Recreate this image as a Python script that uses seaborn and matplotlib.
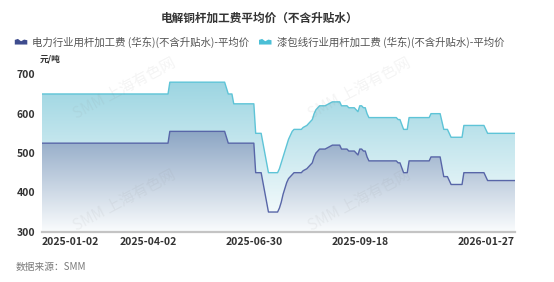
import numpy as np
import pandas as pd
import matplotlib
matplotlib.use("Agg")
import matplotlib.pyplot as plt
import seaborn as sns
from matplotlib.patches import PathPatch, Polygon
from matplotlib.legend_handler import HandlerBase
from matplotlib.colors import LinearSegmentedColormap

# ---------------- data ----------------
title = "电解铜杆加工费平均价（不含升贴水）"
series_names = ["电力行业用杆加工费 (华东)(不含升贴水)-平均价",
                "漆包线行业用杆加工费 (华东)(不含升贴水)-平均价"]
unit = "元/吨"
source = "数据来源：SMM"

holidays = ["2025-01-01", "2025-01-28", "2025-01-29", "2025-01-30", "2025-01-31",
            "2025-02-03", "2025-02-04", "2025-04-04", "2025-05-01", "2025-05-02",
            "2025-05-05", "2025-06-02", "2025-10-01", "2025-10-02", "2025-10-03",
            "2025-10-06", "2025-10-07", "2025-10-08", "2026-01-01", "2026-01-02"]

dates = ["2025-01-02", "2025-04-18", "2025-04-21", "2025-06-06", "2025-06-10",
         "2025-06-12", "2025-06-13", "2025-06-30", "2025-07-01", "2025-07-04",
         "2025-07-10", "2025-07-17", "2025-07-18", "2025-07-21", "2025-07-22",
         "2025-07-23", "2025-07-24", "2025-07-25", "2025-07-28", "2025-07-29",
         "2025-07-30", "2025-08-05", "2025-08-06", "2025-08-08", "2025-08-12",
         "2025-08-13", "2025-08-14", "2025-08-15", "2025-08-19", "2025-08-22",
         "2025-08-26", "2025-08-28", "2025-09-03", "2025-09-04", "2025-09-09",
         "2025-09-10", "2025-09-15", "2025-09-16", "2025-09-17", "2025-09-18",
         "2025-09-19", "2025-09-22", "2025-09-23", "2025-09-24", "2025-09-25",
         "2025-10-24", "2025-10-27", "2025-10-28", "2025-10-30", "2025-11-03",
         "2025-11-04", "2025-11-19", "2025-11-20", "2025-11-27", "2025-12-01",
         "2025-12-03", "2025-12-05", "2025-12-15", "2025-12-16", "2025-12-31",
         "2026-01-06", "2026-01-27"]

power_fee = [525, 525, 555, 555, 525,
             525, 525, 525, 450, 450,
             350, 350, 360, 375, 395,
             410, 425, 435, 440, 445,
             450, 450, 455, 460, 470,
             475, 490, 500, 510, 510,
             515, 520, 520, 510, 510,
             505, 505, 500, 495, 510,
             510, 505, 505, 490, 480,
             480, 475, 475, 450, 450,
             480, 480, 490, 490, 440,
             440, 420, 420, 450, 450,
             430, 430]

enamel_fee = [650, 650, 680, 680, 650,
              650, 625, 625, 550, 550,
              450, 450, 460, 475, 490,
              505, 520, 535, 545, 555,
              560, 560, 565, 570, 580,
              585, 600, 610, 620, 620,
              625, 630, 630, 620, 620,
              615, 615, 610, 605, 620,
              620, 615, 615, 600, 590,
              590, 585, 585, 560, 560,
              590, 590, 600, 600, 560,
              560, 540, 540, 570, 570,
              550, 550]

tick_dates = ["2025-01-02", "2025-04-02", "2025-06-30", "2025-09-18", "2026-01-27"]
y_ticks = [300, 400, 500, 600, 700]

# ---------------- category (trading-day) axis ----------------
days = pd.bdate_range("2025-01-02", "2026-01-27", freq="C", holidays=holidays)
pos = days.get_indexer(pd.to_datetime(dates))
tick_pos = days.get_indexer(pd.to_datetime(tick_dates))

df = pd.DataFrame({
    "pos": np.concatenate([pos, pos]),
    "value": power_fee + enamel_fee,
    "series": [series_names[0]] * len(pos) + [series_names[1]] * len(pos),
})

# ---------------- style ----------------
sns.set_theme(style="white")
plt.rcParams["font.family"] = ["Noto Sans CJK SC", "DejaVu Sans"]

dark_line = "#5866a8"
light_line = "#5ec4d7"
dark_icon = "#3e4c8e"
light_icon = "#4bbfd6"

W, H = 554, 282
fig = plt.figure(figsize=(W / 100, H / 100), dpi=100)
fig.patch.set_facecolor("white")
ax = fig.add_axes([42 / W, 1 - 231.7 / H, 473 / W, (231.7 - 74.3) / H])

ymin, ymax = 300, 700
xmax = len(days) - 1
ax.set_xlim(0, xmax)
ax.set_ylim(ymin, ymax)


def gradient_area(ax, x, y, c_top, c_bot, v_top, zorder):
    coll = ax.fill_between(x, y, ymin, facecolor="none", edgecolor="none")
    path = coll.get_paths()[0]
    cmap = LinearSegmentedColormap.from_list("g", [c_bot, c_top])
    grad = np.linspace(0, 1, 256).reshape(-1, 1)
    im = ax.imshow(grad, cmap=cmap, aspect="auto", origin="lower",
                   extent=[0, xmax, ymin, v_top], zorder=zorder,
                   interpolation="bicubic")
    patch = PathPatch(path, transform=ax.transData, facecolor="none", edgecolor="none")
    ax.add_patch(patch)
    im.set_clip_path(patch)


gradient_area(ax, pos, enamel_fee, "#97d3e0", "#ffffff", 700, 1)
gradient_area(ax, pos, power_fee, "#8aa4c3", "#fafcfd", 560, 2)
ax.set_xlim(0, xmax)
ax.set_ylim(ymin, ymax)

sns.lineplot(data=df, x="pos", y="value", hue="series",
             palette={series_names[0]: dark_line, series_names[1]: light_line},
             estimator=None, linewidth=1.0, legend=False, ax=ax, zorder=3)

for s in ["top", "right", "left"]:
    ax.spines[s].set_visible(False)
ax.spines["bottom"].set_color("#c4c4c4")
ax.spines["bottom"].set_linewidth(1.6)
ax.spines["bottom"].set_zorder(4)
ax.grid(False)
ax.set_xlabel("")
ax.set_ylabel("")

ax.set_yticks(y_ticks)
ax.set_yticklabels([str(v) for v in y_ticks], fontsize=7.5, fontweight="bold", color="#333333")
ax.set_xticks(tick_pos)
ax.set_xticklabels(tick_dates, fontsize=7.5, fontweight="bold", color="#333333")
ax.tick_params(axis="both", length=0)
ax.tick_params(axis="y", pad=5)
ax.tick_params(axis="x", pad=4)
xl = ax.get_xticklabels()
xl[0].set_ha("left")
xl[-1].set_ha("right")

# watermarks
for (wx, wy) in [(125, 88), (360, 88), (125, 200), (360, 200)]:
    fig.text(wx / W, 1 - wy / H, "SMM 上海有色网", fontsize=11, color="#888888",
             alpha=0.09, rotation=28, ha="center", va="center", zorder=0)

# title / unit / source
fig.text(259.5 / W, 1 - 18 / H, title, ha="center", va="center",
         fontsize=8.4, fontweight="bold", color="#333333")
fig.text(40 / W, 1 - 59 / H, unit, ha="left", va="center",
         fontsize=6.3, fontweight="bold", color="#333333")
fig.text(16 / W, 1 - 266.5 / H, source, ha="left", va="center",
         fontsize=7, style="italic", color="#7a7a7a")


# legend with wave icons
class WaveHandler(HandlerBase):
    def create_artists(self, legend, orig_handle, xdescent, ydescent,
                       width, height, fontsize, trans):
        shape = [(0, 0.1), (0, 0.8), (0.25, 0.95), (0.5, 0.6), (0.75, 0.85),
                 (1.0, 0.75), (1.0, 0.1)]
        pts = [(-xdescent + px * width, -ydescent + py * height) for px, py in shape]
        p = Polygon(pts, closed=True, facecolor=orig_handle.get_facecolor(),
                    edgecolor="none", transform=trans)
        return [p]


h1 = Polygon([(0, 0)], facecolor=dark_icon)
h2 = Polygon([(0, 0)], facecolor=light_icon)
leg = fig.legend([h1, h2], series_names, loc="center", ncol=2,
                 bbox_to_anchor=(259.5 / W, 1 - 42 / H), frameon=False,
                 handler_map={Polygon: WaveHandler()}, fontsize=7.5,
                 handlelength=1.2, handleheight=0.6, handletextpad=0.5,
                 columnspacing=0.9, borderaxespad=0, borderpad=0)
for t in leg.get_texts():
    t.set_color("#555555")

fig.savefig("out.png", dpi=100, facecolor="white")
